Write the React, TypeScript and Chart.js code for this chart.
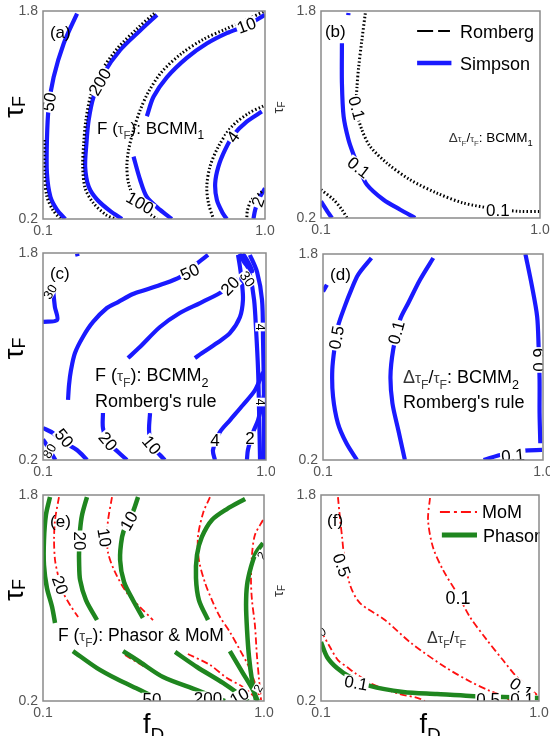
import React, { useEffect, useRef } from 'react';
import { Chart, registerables } from 'chart.js';

Chart.register(...registerables);

type P = [number, number];
const FONT = '"Liberation Sans", Arial, Helvetica, sans-serif';

// ---------- axes ----------
const FD_RANGE: P = [0.1, 1.0];
const TAU_RANGE: P = [0.2, 1.8];
const FD_TICKS = [0.1, 1.0];
const TAU_TICKS = [0.2, 1.8];

// ---------- panel (a): F(tauF) BCMM1 ----------
const A_SIM_50: P[] = [[0.238,1.78],[0.184,1.55],[0.143,1.29],[0.123,1.06],[0.116,0.81],[0.116,0.55],[0.130,0.37],[0.157,0.27],[0.19,0.2]];
const A_ROM_50: P[] = [[0.105,0.808],[0.105,0.551],[0.116,0.372],[0.140,0.269],[0.170,0.2]];
const A_SIM_200: P[] = [[0.562,1.77],[0.494,1.65],[0.413,1.50],[0.346,1.32],[0.305,1.14],[0.285,0.96],[0.276,0.78],[0.271,0.60],[0.285,0.45],[0.319,0.35],[0.373,0.26],[0.42,0.2]];
const A_ROM_200: P[] = [[0.551,1.782],[0.483,1.667],[0.402,1.513],[0.335,1.333],[0.294,1.154],[0.274,0.962],[0.265,0.782],[0.261,0.603],[0.271,0.436],[0.305,0.321],[0.356,0.231],[0.393,0.2]];
const A_SIM_10: P[] = [[1.0,1.77],[0.926,1.69],[0.845,1.63],[0.764,1.55],[0.683,1.44],[0.602,1.29],[0.548,1.14],[0.521,0.99]];
const A_SIM_100: P[] = [[0.467,0.68],[0.494,0.50],[0.521,0.37],[0.575,0.27],[0.622,0.2]];
const A_ROM_10: P[] = [[0.993,1.795],[0.919,1.726],[0.838,1.659],[0.750,1.582],[0.663,1.475],[0.582,1.333],[0.528,1.179],[0.494,1.038],[0.467,0.885],[0.447,0.731],[0.440,0.603],[0.447,0.474],[0.474,0.346],[0.521,0.256],[0.562,0.2]];
const A_SIM_4: P[] = [[0.987,1.026],[0.926,0.949],[0.872,0.846],[0.838,0.731],[0.811,0.603],[0.798,0.474],[0.805,0.346],[0.829,0.244],[0.845,0.2]];
const A_ROM_4: P[] = [[0.993,1.069],[0.933,1.013],[0.865,0.910],[0.811,0.757],[0.777,0.603],[0.764,0.449],[0.771,0.321],[0.791,0.2]];
const A_SIM_2: P[] = [[1.0,0.436],[0.973,0.346],[0.960,0.269],[0.953,0.2]];
const A_ROM_2: P[] = [[0.987,0.41],[0.946,0.346],[0.929,0.269],[0.926,0.2]];

// ---------- panel (b): dtau/tau BCMM1 ----------
const B_SIM_A: P[] = [[0.186,1.55],[0.186,1.242],[0.193,0.985],[0.213,0.805],[0.234,0.689],[0.260,0.57],[0.289,0.457],[0.357,0.341],[0.426,0.264],[0.487,0.2]];
const B_SIM_DOT: P[] = [[0.213,1.785],[0.212,1.768]];
const B_ROM_A: P[] = [[0.282,1.782],[0.268,1.576],[0.255,1.371],[0.248,1.216],[0.245,1.036],[0.268,0.882],[0.302,0.753],[0.371,0.624],[0.466,0.496],[0.576,0.393],[0.685,0.316],[0.822,0.269],[0.918,0.251],[1.0,0.251]];
const B_SIM_B: P[] = [[0.1,0.329],[0.131,0.238],[0.145,0.2]];
const B_ROM_B: P[] = [[0.1,0.419],[0.152,0.341],[0.186,0.264],[0.207,0.2]];

// ---------- panel (c): F(tauF) BCMM2 Romberg ----------
const C_50A: P[] = [[0.766,1.785],[0.713,1.707],[0.653,1.614],[0.572,1.553],[0.512,1.514],[0.463,1.483],[0.403,1.421],[0.358,1.375],[0.302,1.267],[0.261,1.151],[0.229,1.027],[0.213,0.896],[0.205,0.780],[0.201,0.664]];
const C_20A: P[] = [[0.443,0.988],[0.491,1.073],[0.572,1.228],[0.652,1.336],[0.734,1.413],[0.814,1.491],[0.855,1.545],[0.885,1.60]];
const C_20B: P[] = [[0.713,0.988],[0.742,1.027],[0.802,1.104],[0.855,1.182],[0.895,1.305],[0.907,1.437],[0.903,1.568],[0.895,1.692],[0.887,1.785]];
const C_TOP: P[] = [[0.893,1.795],[0.915,1.72],[0.945,1.66],[0.925,1.74],[0.905,1.795]];
const C_R1: P[] = [[0.911,1.785],[0.935,1.630],[0.952,1.437],[0.960,1.205],[0.968,0.896],[0.972,0.586],[0.976,0.2]];
const C_R2: P[] = [[0.935,1.785],[0.964,1.653],[0.984,1.437],[0.988,1.127],[0.992,0.664],[0.992,0.2]];
const C_4: P[] = [[0.988,0.880],[0.956,0.741],[0.907,0.625],[0.855,0.509],[0.814,0.416],[0.786,0.277],[0.794,0.2]];
const C_2: P[] = [[0.992,0.702],[0.968,0.509],[0.948,0.416],[0.927,0.277],[0.923,0.2]];
const C_20C: P[] = [[0.342,0.563],[0.342,0.447],[0.362,0.339],[0.403,0.262],[0.439,0.2]];
const C_10C: P[] = [[0.532,0.563],[0.528,0.432],[0.536,0.316],[0.572,0.239],[0.592,0.2]];
const C_50C: P[] = [[0.1,0.447],[0.140,0.409],[0.185,0.336],[0.237,0.277],[0.278,0.2]];
const C_LEFT: P[] = [[0.140,1.529],[0.148,1.383],[0.157,1.282],[0.1,1.267]];
const C_CORNER: P[] = [[0.1,0.36],[0.12,0.30],[0.15,0.2]];
const C_DOT: P[] = [[0.237,1.795],[0.240,1.775]];

// ---------- panel (d): dtau/tau BCMM2 Romberg ----------
const D_05: P[] = [[0.298,1.769],[0.244,1.640],[0.216,1.523],[0.189,1.393],[0.161,1.237],[0.148,1.082],[0.138,0.900],[0.141,0.693],[0.161,0.485],[0.196,0.330],[0.239,0.2]];
const D_05B: P[] = [[0.1,1.509],[0.116,1.561]];
const D_01: P[] = [[0.551,1.769],[0.497,1.600],[0.449,1.419],[0.415,1.289],[0.387,1.056],[0.376,0.848],[0.384,0.641],[0.408,0.433],[0.435,0.2]];
const D_09: P[] = [[0.928,1.80],[0.955,1.548],[0.976,1.315],[0.982,1.082],[0.986,0.822],[0.986,0.563],[0.989,0.330]];
const D_01B: P[] = [[0.757,0.2],[0.839,0.247],[0.921,0.273],[0.996,0.278]];

// ---------- panel (e): Phasor (green) & MoM (red) ----------
const E_G1: P[] = [[0.1285,1.784],[0.112,1.645],[0.104,1.451],[0.104,1.256],[0.116,1.078],[0.137,0.930],[0.149,0.806]];
const E_R1: P[] = [[0.165,1.784],[0.149,1.606],[0.145,1.451],[0.149,1.295],[0.161,1.179],[0.177,1.062],[0.210,0.946],[0.243,0.852]];
const E_G2: P[] = [[0.279,1.784],[0.259,1.645],[0.251,1.528],[0.247,1.373],[0.247,1.280],[0.251,1.140],[0.275,0.984],[0.320,0.829]];
const E_R2: P[] = [[0.381,1.784],[0.365,1.606],[0.361,1.489],[0.365,1.350],[0.393,1.202],[0.442,1.039],[0.495,0.930],[0.548,0.829]];
const E_G3: P[] = [[0.487,1.784],[0.466,1.668],[0.438,1.567],[0.422,1.474],[0.414,1.295],[0.430,1.124],[0.466,0.984],[0.507,0.845]];
const E_G4: P[] = [[0.923,1.769],[0.849,1.691],[0.788,1.606],[0.747,1.474],[0.727,1.334],[0.723,1.155],[0.735,0.984],[0.772,0.829]];
const E_R3: P[] = [[0.780,1.784],[0.752,1.660],[0.731,1.474],[0.735,1.295],[0.760,1.117],[0.788,0.984],[0.821,0.852],[0.861,0.736],[0.902,0.596],[0.935,0.480],[0.959,0.363],[0.980,0.247]];
const E_G5: P[] = [[0.996,1.427],[0.967,1.350],[0.947,1.241],[0.931,1.101],[0.927,0.946],[0.931,0.751],[0.939,0.542],[0.951,0.363],[0.967,0.208]];
const E_R4: P[] = [[0.996,1.606],[0.963,1.489],[0.951,1.334],[0.947,1.140],[0.951,0.984],[0.963,0.790],[0.971,0.557],[0.980,0.363],[0.988,0.208]];
const E_G6: P[] = [[0.222,0.588],[0.320,0.456],[0.401,0.371],[0.495,0.285],[0.576,0.208]];
const E_G7: P[] = [[0.426,0.588],[0.495,0.503],[0.589,0.386],[0.727,0.285],[0.809,0.223],[0.841,0.2]];
const E_G8: P[] = [[0.638,0.581],[0.727,0.464],[0.833,0.340],[0.914,0.231],[0.935,0.2]];
const E_G9: P[] = [[0.861,0.588],[0.914,0.417],[0.955,0.285],[0.975,0.2]];
const E_R5: P[] = [[0.434,0.557],[0.495,0.487],[0.597,0.379],[0.719,0.285],[0.800,0.223]];
const E_R6: P[] = [[0.690,0.565],[0.780,0.480],[0.849,0.379],[0.914,0.309],[0.963,0.231]];

// ---------- panel (f): dtau/tau Phasor & MoM ----------
const F_RA: P[] = [[0.170,1.784],[0.178,1.629],[0.187,1.474],[0.195,1.334],[0.220,1.101],[0.261,0.961],[0.364,0.829],[0.472,0.650],[0.612,0.464],[0.719,0.348],[0.789,0.285],[0.860,0.231],[0.884,0.2]];
const F_RB: P[] = [[0.550,1.777],[0.542,1.606],[0.562,1.396],[0.604,1.217],[0.666,1.023],[0.715,0.852],[0.785,0.674],[0.851,0.518],[0.909,0.386],[0.983,0.262],[1.0,0.231]];
const F_RC: P[] = [[0.1,0.744],[0.137,0.619],[0.170,0.518],[0.207,0.464],[0.240,0.417],[0.302,0.340],[0.364,0.293],[0.426,0.254],[0.500,0.223],[0.529,0.2]];
const F_G: P[] = [[0.1,0.658],[0.125,0.542],[0.166,0.456],[0.220,0.386],[0.302,0.317],[0.439,0.270],[0.579,0.254],[0.715,0.239],[0.851,0.231],[1.0,0.223]];

// ---------- types ----------
type StyleKey = 'sim' | 'rom' | 'green' | 'red';
type Curve = { pts: P[]; st: StyleKey };
type Label = { x: number; y: number; t: string; r: number; s?: number };
type Seg = { t: string; s: number; dy?: number; c?: string };
type Txt = { x: number; y: number; segs: Seg[] };
type Leg = { x0: number; x1: number; tx: number; y: number; kind: string; t: string };
type PanelDef = {
  key: string;
  box: { left: number; top: number; width: number; height: number };
  yw: number; xh: number; pad: { top: number; right: number; bottom: number };
  curves: Curve[]; labels: Label[]; texts: Txt[]; legend: Leg[];
  yTitle: 'big' | 'small' | null; xTitle: boolean;
};

const STYLES: Record<StyleKey, { color: string; width: number; dash: number[]; order: number }> = {
  sim: { color: '#1a1aff', width: 4.2, dash: [], order: 1 },
  rom: { color: '#000000', width: 3, dash: [1.5, 2.2], order: 0 },
  green: { color: '#1f861f', width: 4.5, dash: [], order: 0 },
  red: { color: '#ff1010', width: 1.8, dash: [7, 3, 2, 3], order: 1 },
};

const tauF = (s: number, k = 1): Seg[] => [
  { t: 'τ', s: s * 0.85 * k, c: '#444' },
  { t: 'F', s: s * 0.68 * k, dy: s * 0.3, c: '#444' },
];
const sub = (t: string, s: number): Seg => ({ t, s: s * 0.7, dy: s * 0.3 });

const PANELS: PanelDef[] = [
  {
    key: 'a', box: { left: 0, top: 0, width: 275, height: 240 }, yw: 43, xh: 20, pad: { top: 11, right: 10, bottom: 1 },
    curves: [
      { pts: A_SIM_50, st: 'sim' }, { pts: A_ROM_50, st: 'rom' },
      { pts: A_SIM_200, st: 'sim' }, { pts: A_ROM_200, st: 'rom' },
      { pts: A_SIM_10, st: 'sim' }, { pts: A_SIM_100, st: 'sim' }, { pts: A_ROM_10, st: 'rom' },
      { pts: A_SIM_4, st: 'sim' }, { pts: A_ROM_4, st: 'rom' },
      { pts: A_SIM_2, st: 'sim' }, { pts: A_ROM_2, st: 'rom' },
    ],
    labels: [
      { x: 0.125, y: 1.10, t: '50', r: -80 },
      { x: 0.331, y: 1.254, t: '200', r: -60 },
      { x: 0.925, y: 1.69, t: '10', r: -20 },
      { x: 0.493, y: 0.323, t: '100', r: 30 },
      { x: 0.870, y: 0.831, t: '4', r: -55 },
      { x: 0.972, y: 0.331, t: '2', r: -70 },
    ],
    texts: [
      { x: 0.128, y: 1.638, segs: [{ t: '(a)', s: 17 }] },
      { x: 0.319, y: 0.900, segs: [{ t: 'F (', s: 17 }, ...tauF(17), { t: '): BCMM', s: 17 }, sub('1', 17)] },
    ],
    legend: [], yTitle: 'big', xTitle: false,
  },
  {
    key: 'b', box: { left: 275, top: 0, width: 275, height: 240 }, yw: 46, xh: 20, pad: { top: 11, right: 10, bottom: 2 },
    curves: [
      { pts: B_SIM_A, st: 'sim' }, { pts: B_SIM_DOT, st: 'sim' }, { pts: B_ROM_A, st: 'rom' },
      { pts: B_SIM_B, st: 'sim' }, { pts: B_ROM_B, st: 'rom' },
    ],
    labels: [
      { x: 0.246, y: 1.05, t: '0.1', r: 75 },
      { x: 0.255, y: 0.59, t: '0.1', r: 38 },
      { x: 0.827, y: 0.262, t: '0.1', r: 0 },
    ],
    texts: [
      { x: 0.116, y: 1.645, segs: [{ t: '(b)', s: 17 }] },
      { x: 0.625, y: 0.826, segs: [{ t: 'Δ', s: 13.5, c: '#333' }, ...tauF(13.5, 0.85), { t: '/', s: 13.5 }, ...tauF(13.5, 0.85), { t: ': BCMM', s: 13.5 }, sub('1', 13.5)] },
    ],
    legend: [
      { x0: 0.495, x1: 0.630, tx: 0.671, y: 1.645, kind: 'romLeg', t: 'Romberg' },
      { x0: 0.495, x1: 0.636, tx: 0.671, y: 1.398, kind: 'sim', t: 'Simpson' },
    ],
    yTitle: 'small', xTitle: false,
  },
  {
    key: 'c', box: { left: 0, top: 240, width: 275, height: 240 }, yw: 43, xh: 20, pad: { top: 13, right: 9, bottom: 0 },
    curves: [
      { pts: C_50A, st: 'sim' }, { pts: C_20A, st: 'sim' }, { pts: C_20B, st: 'sim' }, { pts: C_TOP, st: 'sim' },
      { pts: C_R1, st: 'sim' }, { pts: C_R2, st: 'sim' }, { pts: C_4, st: 'sim' }, { pts: C_2, st: 'sim' },
      { pts: C_20C, st: 'sim' }, { pts: C_10C, st: 'sim' }, { pts: C_50C, st: 'sim' },
      { pts: C_LEFT, st: 'sim' }, { pts: C_CORNER, st: 'sim' }, { pts: C_DOT, st: 'sim' },
    ],
    labels: [
      { x: 0.693, y: 1.653, t: '50', r: -25 },
      { x: 0.855, y: 1.545, t: '20', r: -45 },
      { x: 0.925, y: 1.60, t: '30', r: 55, s: 14 },
      { x: 0.976, y: 1.228, t: '4', r: 90, s: 12 },
      { x: 0.976, y: 0.648, t: '4', r: 90, s: 12 },
      { x: 0.794, y: 0.355, t: '4', r: 0 },
      { x: 0.935, y: 0.37, t: '2', r: 0 },
      { x: 0.362, y: 0.345, t: '20', r: 50 },
      { x: 0.538, y: 0.316, t: '10', r: 50 },
      { x: 0.185, y: 0.37, t: '50', r: 50 },
      { x: 0.128, y: 1.50, t: '30', r: -60, s: 13 },
      { x: 0.125, y: 0.27, t: '80', r: -60, s: 13 },
    ],
    texts: [
      { x: 0.128, y: 1.645, segs: [{ t: '(c)', s: 17 }] },
      { x: 0.310, y: 0.857, segs: [{ t: 'F (', s: 18 }, ...tauF(18), { t: '): BCMM', s: 18 }, sub('2', 18)] },
      { x: 0.310, y: 0.656, segs: [{ t: "Romberg's rule", s: 18 }] },
    ],
    legend: [], yTitle: 'big', xTitle: false,
  },
  {
    key: 'd', box: { left: 275, top: 240, width: 275, height: 240 }, yw: 48, xh: 20, pad: { top: 14, right: 7, bottom: 0 },
    curves: [
      { pts: D_05, st: 'sim' }, { pts: D_05B, st: 'sim' }, { pts: D_01, st: 'sim' },
      { pts: D_09, st: 'sim' }, { pts: D_01B, st: 'sim' },
    ],
    labels: [
      { x: 0.155, y: 1.15, t: '0.5', r: -80 },
      { x: 0.400, y: 1.19, t: '0.1', r: -75 },
      { x: 0.984, y: 0.977, t: '0.9', r: -90 },
      { x: 0.877, y: 0.235, t: '0.1', r: -5 },
    ],
    texts: [
      { x: 0.129, y: 1.645, segs: [{ t: '(d)', s: 17 }] },
      { x: 0.427, y: 0.845, segs: [{ t: 'Δ', s: 18, c: '#333' }, ...tauF(18), { t: '/', s: 18 }, ...tauF(18), { t: ': BCMM', s: 18 }, sub('2', 18)] },
      { x: 0.427, y: 0.658, segs: [{ t: "Romberg's rule", s: 18 }] },
    ],
    legend: [], yTitle: null, xTitle: false,
  },
  {
    key: 'e', box: { left: 0, top: 480, width: 275, height: 256 }, yw: 43, xh: 20, pad: { top: 15, right: 11, bottom: 15 },
    curves: [
      { pts: E_G1, st: 'green' }, { pts: E_R1, st: 'red' }, { pts: E_G2, st: 'green' }, { pts: E_R2, st: 'red' },
      { pts: E_G3, st: 'green' }, { pts: E_G4, st: 'green' }, { pts: E_R3, st: 'red' }, { pts: E_G5, st: 'green' },
      { pts: E_R4, st: 'red' }, { pts: E_G6, st: 'green' }, { pts: E_G7, st: 'green' }, { pts: E_G8, st: 'green' },
      { pts: E_G9, st: 'green' }, { pts: E_R5, st: 'red' }, { pts: E_R6, st: 'red' },
    ],
    labels: [
      { x: 0.17, y: 1.10, t: '20', r: 70 },
      { x: 0.250, y: 1.443, t: '20', r: 90 },
      { x: 0.35, y: 1.47, t: '10', r: 80 },
      { x: 0.45, y: 1.598, t: '10', r: -60 },
      { x: 0.544, y: 0.212, t: '50', r: 0 },
      { x: 0.772, y: 0.222, t: '200', r: 0 },
      { x: 0.90, y: 0.235, t: '10', r: -30 },
      { x: 0.99, y: 1.33, t: '2', r: -60, s: 12 },
      { x: 0.975, y: 0.30, t: '2', r: -60, s: 12 },
    ],
    texts: [
      { x: 0.129, y: 1.598, segs: [{ t: '(e)', s: 17 }] },
      { x: 0.161, y: 0.713, segs: [{ t: 'F (', s: 17.5 }, ...tauF(17.5), { t: '): Phasor & MoM', s: 17.5 }] },
    ],
    legend: [], yTitle: 'big', xTitle: true,
  },
  {
    key: 'f', box: { left: 275, top: 480, width: 275, height: 256 }, yw: 46, xh: 20, pad: { top: 15, right: 11, bottom: 15 },
    curves: [
      { pts: F_RA, st: 'red' }, { pts: F_RB, st: 'red' }, { pts: F_RC, st: 'red' }, { pts: F_G, st: 'green' },
    ],
    labels: [
      { x: 0.185, y: 1.256, t: '0.5', r: 70 },
      { x: 0.666, y: 1.0, t: '0.1', r: 0, s: 18 },
      { x: 0.926, y: 0.301, t: '0.1', r: 35 },
      { x: 0.245, y: 0.34, t: '0.1', r: 10 },
      { x: 0.79, y: 0.212, t: '0.5', r: 0 },
      { x: 0.93, y: 0.212, t: '0.1', r: 0 },
      { x: 0.104, y: 0.74, t: '0', r: -30, s: 12 },
    ],
    texts: [
      { x: 0.125, y: 1.606, segs: [{ t: '(f)', s: 17 }] },
      { x: 0.538, y: 0.697, segs: [{ t: 'Δ', s: 16, c: '#333' }, ...tauF(16), { t: '/', s: 16 }, ...tauF(16)] },
    ],
    legend: [
      { x0: 0.591, x1: 0.744, tx: 0.765, y: 1.668, kind: 'red', t: 'MoM' },
      { x0: 0.599, x1: 0.744, tx: 0.769, y: 1.489, kind: 'green', t: 'Phasor' },
    ],
    yTitle: 'small', xTitle: true,
  },
];

function richWidth(ctx: CanvasRenderingContext2D, segs: Seg[]) {
  let w = 0;
  for (const s of segs) { ctx.font = `${s.s}px ${FONT}`; w += ctx.measureText(s.t).width; }
  return w;
}
function drawRich(ctx: CanvasRenderingContext2D, segs: Seg[], x: number, y: number, align: 'left' | 'center') {
  let cx = align === 'center' ? x - richWidth(ctx, segs) / 2 : x;
  ctx.textAlign = 'left';
  ctx.textBaseline = 'alphabetic';
  for (const s of segs) {
    ctx.font = `${s.s}px ${FONT}`;
    ctx.fillStyle = s.c || '#000';
    ctx.fillText(s.t, cx, y + (s.dy || 0));
    cx += ctx.measureText(s.t).width;
  }
}

function makeConfig(def: PanelDef): any {
  const datasets = def.curves.map((c) => {
    const st = STYLES[c.st];
    return {
      data: c.pts.map(([x, y]) => ({ x, y })),
      showLine: true, pointRadius: 0, pointHoverRadius: 0,
      borderColor: st.color, borderWidth: st.width, borderDash: st.dash,
      borderCapStyle: 'butt', tension: 0.3, fill: false, clip: 0, order: st.order,
    };
  });
  const deco = {
    id: 'deco' + def.key,
    afterDatasetsDraw(chart: any) {
      const ctx: CanvasRenderingContext2D = chart.ctx;
      const a = chart.chartArea;
      const xs = chart.scales.x, ys = chart.scales.y;
      // inline contour labels
      ctx.save();
      ctx.beginPath(); ctx.rect(a.left, a.top, a.right - a.left, a.bottom - a.top); ctx.clip();
      for (const L of def.labels) {
        const px = xs.getPixelForValue(L.x), py = ys.getPixelForValue(L.y);
        const size = L.s ?? 17;
        ctx.save();
        ctx.translate(px, py); ctx.rotate((L.r * Math.PI) / 180);
        ctx.font = `${size}px ${FONT}`;
        const w = ctx.measureText(L.t).width;
        ctx.fillStyle = '#fff';
        ctx.fillRect(-w / 2 - 1, -size * 0.4, w + 2, size * 0.8);
        ctx.fillStyle = '#000'; ctx.textAlign = 'center'; ctx.textBaseline = 'middle';
        ctx.fillText(L.t, 0, 1);
        ctx.restore();
      }
      ctx.restore();
      // text annotations
      for (const T of def.texts) {
        const px = xs.getPixelForValue(T.x), py = ys.getPixelForValue(T.y);
        drawRich(ctx, T.segs, px, py + T.segs[0].s * 0.36, 'left');
      }
      // legends
      for (const g of def.legend) {
        const x0 = xs.getPixelForValue(g.x0), x1 = xs.getPixelForValue(g.x1);
        const py = ys.getPixelForValue(g.y), tx = xs.getPixelForValue(g.tx);
        ctx.save();
        ctx.beginPath();
        if (g.kind === 'romLeg') { ctx.strokeStyle = '#000'; ctx.lineWidth = 2; ctx.setLineDash([16, 5]); }
        else if (g.kind === 'sim') { ctx.strokeStyle = STYLES.sim.color; ctx.lineWidth = 4.5; ctx.setLineDash([]); }
        else if (g.kind === 'red') { ctx.strokeStyle = STYLES.red.color; ctx.lineWidth = 2; ctx.setLineDash([10, 4, 3, 4]); }
        else { ctx.strokeStyle = STYLES.green.color; ctx.lineWidth = 5; ctx.setLineDash([]); }
        ctx.moveTo(x0, py); ctx.lineTo(x1, py); ctx.stroke();
        ctx.restore();
        drawRich(ctx, [{ t: g.t, s: 18 }], tx, py + 6.5, 'left');
      }
    },
    afterDraw(chart: any) {
      const ctx: CanvasRenderingContext2D = chart.ctx;
      const a = chart.chartArea;
      ctx.save();
      ctx.strokeStyle = '#8a8a8a'; ctx.lineWidth = 1.5; ctx.setLineDash([]);
      ctx.strokeRect(a.left, a.top, a.right - a.left, a.bottom - a.top);
      ctx.restore();
      const midY = (a.top + a.bottom) / 2;
      if (def.yTitle === 'big') {
        ctx.save(); ctx.translate(a.left - 28, midY - 8); ctx.rotate(-Math.PI / 2);
        drawRich(ctx, [{ t: 'τ', s: 28 }, { t: 'F', s: 18, dy: 2 }], 0, 8, 'center');
        ctx.restore();
      } else if (def.yTitle === 'small') {
        ctx.save(); ctx.translate(a.left - 42, midY - 7); ctx.rotate(-Math.PI / 2);
        drawRich(ctx, [{ t: 'τ', s: 15, c: '#333' }, { t: 'F', s: 10, dy: 2, c: '#333' }], 0, 4, 'center');
        ctx.restore();
      }
      if (def.xTitle) {
        drawRich(ctx, [{ t: 'f', s: 27 }, { t: 'D', s: 19, dy: 8 }], (a.left + a.right) / 2, a.bottom + 32, 'center');
      }
    },
  };
  const tickFont = { family: FONT, size: 14 };
  return {
    type: 'scatter',
    data: { datasets },
    options: {
      animation: false, responsive: false, devicePixelRatio: 1, events: [],
      layout: { padding: { left: 0, top: def.pad.top, right: def.pad.right, bottom: def.pad.bottom } },
      plugins: { legend: { display: false }, tooltip: { enabled: false }, title: { display: false } },
      scales: {
        x: {
          type: 'linear', min: FD_RANGE[0], max: FD_RANGE[1],
          grid: { display: false, drawTicks: false }, border: { display: false },
          ticks: { font: tickFont, color: '#555', padding: 4, maxRotation: 0, autoSkip: false, callback: (v: any) => Number(v).toFixed(1) },
          afterBuildTicks: (s: any) => { s.ticks = FD_TICKS.map((value) => ({ value })); },
          afterFit: (s: any) => { s.height = def.xh; s.paddingLeft = 0; s.paddingRight = 0; },
        },
        y: {
          type: 'linear', min: TAU_RANGE[0], max: TAU_RANGE[1],
          grid: { display: false, drawTicks: false }, border: { display: false },
          ticks: { font: tickFont, color: '#555', padding: 5, autoSkip: false, callback: (v: any) => Number(v).toFixed(1) },
          afterBuildTicks: (s: any) => { s.ticks = TAU_TICKS.map((value) => ({ value })); },
          afterFit: (s: any) => { s.width = def.yw; s.paddingTop = 0; s.paddingBottom = 0; },
        },
      },
    },
    plugins: [deco],
  };
}

function Panel({ def }: { def: PanelDef }) {
  const ref = useRef<HTMLCanvasElement>(null);
  useEffect(() => {
    const canvas = ref.current;
    if (!canvas) return;
    const chart = new Chart(canvas, makeConfig(def));
    return () => chart.destroy();
  }, [def]);
  return (
    <canvas
      ref={ref}
      width={def.box.width}
      height={def.box.height}
      style={{ position: 'absolute', left: def.box.left, top: def.box.top, width: def.box.width, height: def.box.height }}
    />
  );
}

export default function App() {
  return (
    <div style={{ position: 'absolute', left: 0, top: 0, width: 550, height: 736, background: '#fff', overflow: 'hidden' }}>
      {PANELS.map((p) => <Panel key={p.key} def={p} />)}
    </div>
  );
}
